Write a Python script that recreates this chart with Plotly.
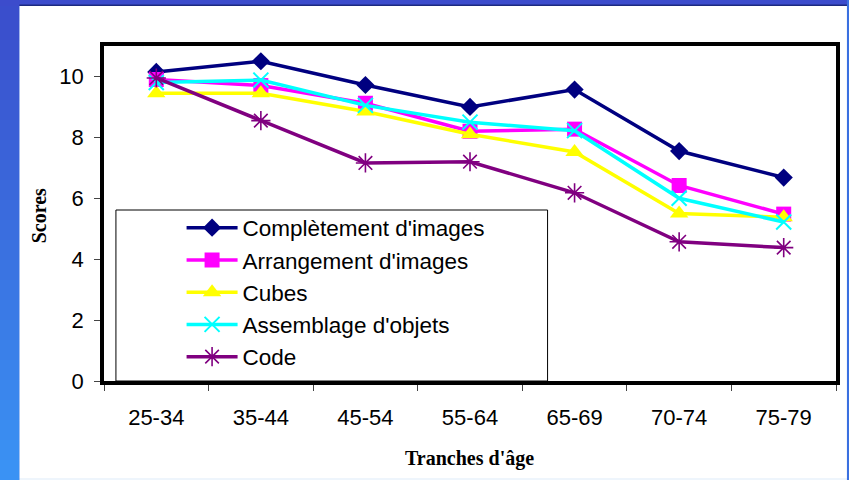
import plotly.graph_objects as go

categories = ["25-34", "35-44", "45-54", "55-64", "65-69", "70-74", "75-79"]
completement = [10.15, 10.5, 9.72, 9.0, 9.57, 7.55, 6.68]
arrangement = [9.9, 9.7, 9.12, 8.2, 8.27, 6.42, 5.48]
cubes = [9.45, 9.45, 8.85, 8.1, 7.52, 5.5, 5.38]
assemblage = [9.8, 9.88, 9.05, 8.5, 8.22, 6.0, 5.22]
code = [9.95, 8.55, 7.16, 7.2, 6.18, 4.57, 4.38]

W, H = 849, 480
L, R, T, B = 104, 9, 46, 99
PW, PH = W - L - R, H - T - B

def px(x):
    return (x - L) / PW

def py(y):
    return (H - B - y) / PH

series = [
    ("Complètement d'images", completement, "#000080", dict(symbol="diamond", size=14)),
    ("Arrangement d'images", arrangement, "#FF00FF", dict(symbol="square", size=15)),
    ("Cubes", cubes, "#FFFF00", dict(symbol="triangle-up", size=16)),
    ("Assemblage d'objets", assemblage, "#00FFFF", dict(symbol="x-thin", size=15, line=dict(width=2, color="#00FFFF"))),
    ("Code", code, "#800080", dict(symbol="asterisk", size=16, line=dict(width=1.6, color="#800080"))),
]

fig = go.Figure()
for i, (name, vals, color, mk) in enumerate(series):
    marker = dict(color=color, **mk)
    fig.add_trace(go.Scatter(
        x=categories, y=vals, name=name, mode="lines+markers",
        line=dict(color=color, width=3.5), marker=marker,
        legendgroup="g%d" % i,
    ))

shapes = []
# blue slide background gradient on left strip
top_c = (58, 78, 204)
bot_c = (58, 146, 244)
n = 24
for k in range(n):
    t = k / (n - 1)
    c = tuple(int(top_c[j] + (bot_c[j] - top_c[j]) * t) for j in range(3))
    y0 = k * H / n
    y1 = (k + 1) * H / n
    shapes.append(dict(type="rect", xref="paper", yref="paper",
                       x0=px(-2), x1=px(19), y0=py(y1 + 1), y1=py(y0),
                       fillcolor="rgb(%d,%d,%d)" % c, line=dict(width=0), layer="below"))
shapes.append(dict(type="rect", xref="paper", yref="paper",
                   x0=px(-2), x1=px(851), y0=py(6), y1=py(-2),
                   fillcolor="#3c4ccc", line=dict(width=0), layer="below"))
shapes.append(dict(type="rect", xref="paper", yref="paper",
                   x0=px(19), x1=px(851), y0=py(6), y1=py(4.5),
                   fillcolor="#1c2a80", line=dict(width=0), layer="below"))
shapes.append(dict(type="rect", xref="paper", yref="paper",
                   x0=px(19), x1=px(851), y0=py(478), y1=py(6),
                   fillcolor="white", line=dict(width=0), layer="below"))
shapes.append(dict(type="rect", xref="paper", yref="paper",
                   x0=px(19), x1=px(851), y0=py(482), y1=py(478),
                   fillcolor="#eef5fc", line=dict(width=0), layer="below"))
# legend box
shapes.append(dict(type="rect", xref="paper", yref="paper",
                   x0=px(116), x1=px(550), y0=0, y1=py(210),
                   fillcolor="white", line=dict(width=1, color="black"), layer="below"))

fig.update_layout(
    width=W, height=H,
    margin=dict(l=L, r=R, t=T, b=B),
    paper_bgcolor="#3a70e0",
    plot_bgcolor="rgba(0,0,0,0)",
    shapes=shapes,
    font=dict(family="Arial, Liberation Sans", color="black"),
    showlegend=True,
    legend=dict(
        x=px(182), y=py(206.5), xanchor="left", yanchor="top",
        bgcolor="rgba(0,0,0,0)", borderwidth=0,
        font=dict(family="Arial, Liberation Sans", size=22.5, color="black"),
        itemwidth=51, tracegroupgap=0,
    ),
    xaxis=dict(
        type="category", range=[-0.5, 6.5], tickson="boundaries",
        showline=True, linewidth=3.5, linecolor="black", mirror=True,
        ticks="outside", ticklen=6, tickwidth=1, tickcolor="#444",
        tickfont=dict(size=22), ticklabelstandoff=14,
        showgrid=False, zeroline=False,
    ),
    yaxis=dict(
        range=[0, 11], dtick=2, tick0=0,
        showline=True, linewidth=3.5, linecolor="black", mirror=True,
        ticks="outside", ticklen=6, tickwidth=1, tickcolor="#444",
        tickfont=dict(size=22), ticklabelstandoff=6,
        showgrid=False, zeroline=False,
    ),
    annotations=[
        dict(text="<b>Tranches d'âge</b>", xref="paper", yref="paper",
             x=px(471.5), y=py(458), xanchor="center", yanchor="middle",
             showarrow=False, font=dict(family="Times New Roman, Liberation Serif", size=20)),
        dict(text="<b>Scores</b>", xref="paper", yref="paper",
             x=px(39), y=py(216), xanchor="center", yanchor="middle", textangle=-90,
             showarrow=False, font=dict(family="Times New Roman, Liberation Serif", size=20)),
    ],
)

fig.write_html("out.html")
